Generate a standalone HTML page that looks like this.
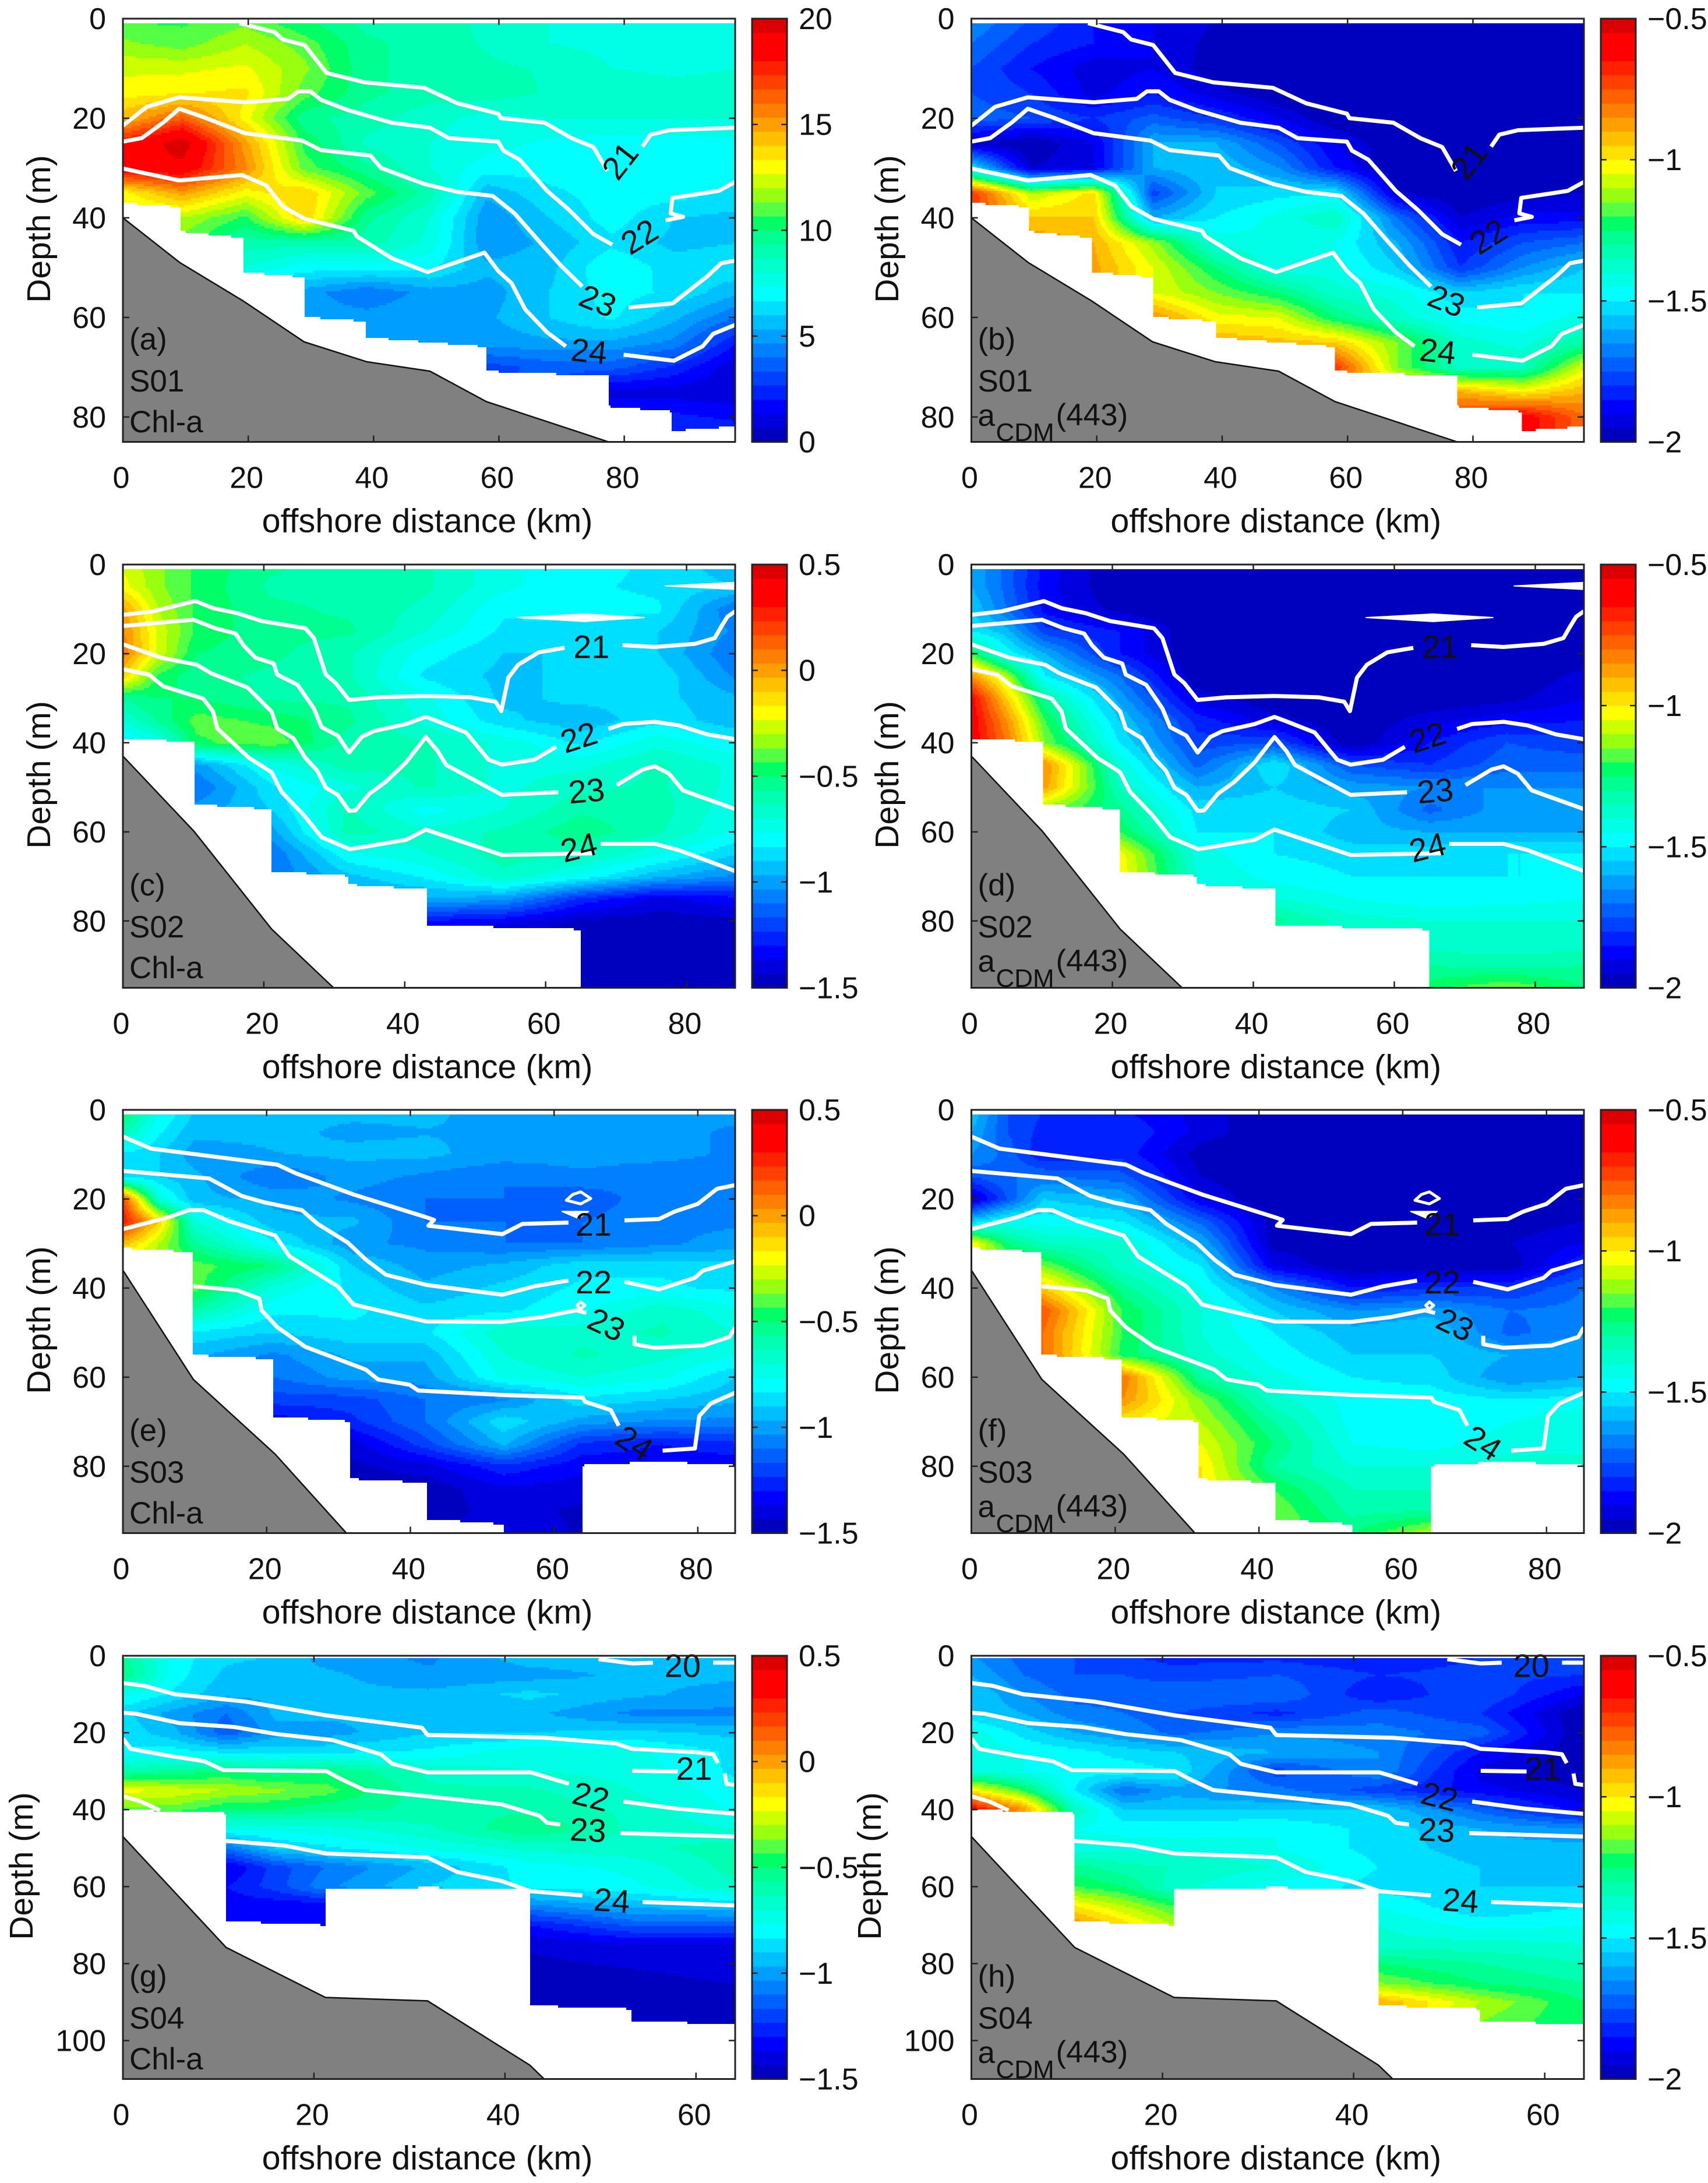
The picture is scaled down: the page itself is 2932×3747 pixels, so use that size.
<!DOCTYPE html>
<html lang="en">
<head>
<meta charset="utf-8">
<title>Offshore sections of Chl-a and aCDM(443)</title>
<style>
html,body{margin:0;padding:0;background:#fff;}
svg{display:block;}
text{font-family:"Liberation Sans",Arial,sans-serif;fill:#111;}
</style>
</head>
<body>
<svg id="fig" xmlns="http://www.w3.org/2000/svg" width="2932" height="3747" viewBox="0 0 2932 3747"></svg>
<script>
/* ---------- station columns (km) ---------- */
const colsS01=[0,9.5,19.5,29,39,49,58,68,78,88,98];
const colsS02=[0,5,10.5,21,32,43,54,65,76,87];
const colsS03=[0,5,10,21,32,42,53,64,75,85.2];
const colsS04=[0,5.4,10.8,16,21.2,32,42.6,53.3,64.1];

/* ---------- gridded values: one row per 5 m of depth; short rows are missing their shoreward (masked) cells ---------- */
const gridChlS01=[
[10.5,10.5,11,10,9,9,8.5,8,7.8,7.8,8],
[11.5,11,12,11,9.5,9,8.6,8,7.8,7.8,8],
[12.5,12.5,12.8,11.5,9.5,9,8.8,8.6,8,7.8,8],
[13,13.3,13.5,11,9.5,9,9,8.6,8.6,8.4,8.4],
[14.5,16.5,13,9.5,9,8.2,7.8,8,8,8,8],
[18,20,15,10.5,8.5,8,7.6,7.2,7,7,7.2],
[19,19,15.5,11,9.5,8,7,7,7,7,7],
[13,15,13,14,11,9,5.5,6.5,7,7,6.5],
[12,12,10.5,14,9.5,8,4.8,6,7,6,5.8],
[11,11,9,9,9,7.8,4.8,5.5,6.5,5.8,6],
[9,9,8,7,7,6.8,5.5,5.8,7.3,6.3,6.5],
[6,6,6,5,4,5,5,6,7,6.5,5.5],
[5,5,5,5,5,5.3,5.2,6,6.8,5.5,4],
[5,5,5,5,5,4.8,5,5.2,5.2,4.5,2],
[4.5,4.5,4.5,4.5,4.5,4.5,3,3.6,3.6,2.5,.8],
[3.5,3.5,3.5,3.5,3.5,3.5,3.5,3.5,1,1,.8],
[2.5,2.2,1.8],
[3,3,3]];
const gridCdmS01=[
[-1.65,-1.75,-1.85,-1.9,-1.95,-2,-2,-2,-2,-2,-2],
[-1.7,-1.8,-1.85,-1.9,-1.97,-2,-2,-2,-2,-2,-2],
[-1.75,-1.85,-1.93,-1.9,-1.98,-2,-1.95,-2,-2,-2,-2],
[-1.75,-1.8,-1.92,-1.85,-1.93,-2,-2,-2,-2,-2,-2],
[-1.72,-1.75,-1.8,-1.73,-1.8,-1.9,-2,-2,-2,-2,-2],
[-1.95,-2,-1.9,-1.6,-1.6,-1.75,-1.9,-2,-2,-2,-2],
[-1.5,-1.95,-1.9,-1.6,-1.55,-1.65,-1.85,-2,-2,-2,-2],
[-.7,-1.1,-.98,-1.78,-1.55,-1.52,-1.5,-1.95,-2,-1.97,-1.95],
[-.7,-.95,-.95,-1.6,-1.5,-1.43,-1.35,-1.7,-1.95,-1.88,-1.88],
[-.7,-.85,-.9,-1.12,-1.42,-1.45,-1.45,-1.6,-1.85,-1.75,-1.7],
[-.85,-.85,-.88,-1.05,-1.25,-1.44,-1.43,-1.55,-1.8,-1.65,-1.55],
[-.85,-.85,-.87,-1.05,-1.15,-1.25,-1.38,-1.42,-1.55,-1.5,-1.5],
[-.85,-.85,-.85,-.85,-1.03,-1.05,-1.25,-1.38,-1.47,-1.5,-1.42],
[-.9,-.9,-.9,-.9,-.9,-.93,-.95,-1.15,-1.38,-1.42,-1.3],
[-.9,-.9,-.9,-.9,-.9,-.9,-.7,-1.15,-1.37,-1.35,-1.05],
[-.9,-.9,-.9,-.9,-.9,-.9,-.9,-.9,-.9,-1,-.9],
[-.7,-.6,-.8],
[-.7,-.6,-.8]];
const gridChlS02=[
[-.25,-.35,-.45,-.55,-.6,-.62,-.75,-.8,-.85,-.95],
[-.2,-.35,-.45,-.58,-.6,-.62,-.75,-.82,-.85,-.9],
[0,-.3,-.45,-.55,-.58,-.65,-.82,-.8,-.82,-1.1],
[.05,-.25,-.45,-.55,-.55,-.7,-.85,-.87,-.9,-1.05],
[.08,-.25,-.5,-.55,-.62,-.8,-.9,-.9,-.9,-1.1],
[-.1,-.45,-.55,-.58,-.62,-.85,-.92,-.88,-.85,-1.05],
[-.55,-.5,-.5,-.58,-.58,-.75,-.92,-.88,-.88,-.95],
[-.7,-.55,-.4,-.45,-.55,-.72,-.88,-.95,-.85,-.95],
[-.85,-.75,-.45,-.38,-.6,-.62,-.72,-.85,-.72,-.82],
[-.85,-.9,-1,-.75,-.6,-.62,-.72,-.72,-.62,-.72],
[-.9,-1,-1.1,-.85,-.72,-.62,-.72,-.65,-.62,-.72],
[-.9,-1,-1,-.9,-.62,-.8,-.7,-.58,-.6,-.75],
[-1,-1,-1,-1,-.6,-.68,-.62,-.52,-.62,-.78],
[-1,-1,-1.1,-1.1,-.78,-.7,-.6,-.62,-.75,-.9],
[-1,-1,-1.15,-1.1,-.92,-.82,-.65,-.78,-.95,-1.05],
[-1.1,-1.1,-1.1,-1.1,-1,-.98,-1,-1.25,-1.38,-1.32],
[-1.3,-1.3,-1.3,-1.3,-1.3,-1.3,-1.35,-1.45,-1.48,-1.45],
[-1.5,-1.5,-1.5],
[-1.5,-1.5,-1.5],
[-1.5,-1.5,-1.5]];
const gridCdmS02=[
[-1.6,-1.72,-1.87,-2,-2,-2,-2,-2,-2,-2],
[-1.6,-1.72,-1.88,-2,-2,-2,-2,-2,-2,-2],
[-1.55,-1.7,-1.87,-1.97,-2,-2,-2,-2,-2,-2],
[-1.5,-1.58,-1.78,-1.85,-2,-2,-2,-2,-2,-2],
[-1.2,-1.47,-1.6,-1.85,-2,-2,-2,-2,-2,-2],
[-.85,-1.1,-1.5,-1.7,-2,-2,-2,-2,-2,-1.93],
[-.62,-.95,-1.3,-1.62,-1.92,-2,-2,-2,-1.97,-1.9],
[-.6,-.85,-1.2,-1.55,-1.82,-1.93,-2,-1.92,-1.87,-1.85],
[-.6,-.8,-1.15,-1.5,-1.78,-1.75,-2,-1.85,-1.75,-1.78],
[-.85,-.85,-.85,-1.4,-1.72,-1.5,-1.75,-1.8,-1.72,-1.72],
[-.85,-.85,-.88,-1.35,-1.6,-1.55,-1.62,-1.65,-1.65,-1.65],
[-1,-1,-1.15,-1.28,-1.52,-1.52,-1.55,-1.72,-1.62,-1.62],
[-1.2,-1.2,-1.2,-1.2,-1.5,-1.5,-1.58,-1.6,-1.6,-1.6],
[-1.02,-1.02,-1.02,-1.02,-1.42,-1.5,-1.52,-1.52,-1.5,-1.5],
[-1,-1,-1,-1,-1.4,-1.47,-1.5,-1.5,-1.5,-1.5],
[-1.4,-1.4,-1.4,-1.4,-1.4,-1.4,-1.45,-1.48,-1.47,-1.45],
[-1.28,-1.38,-1.4,-1.4,-1.4],
[-1.38,-1.38,-1.38],
[-1.3,-1.32,-1.3],
[-1.22,-1.15,-1.25]];
const gridChlS03=[
[-.45,-.75,-.9,-.95,-.95,-.95,-1,-1,-1,-1],
[-.6,-.82,-.95,-.95,-.98,-.97,-.97,-1,-1,-1.05],
[-.85,-.9,-1,-.97,-.95,-.95,-1,-1,-1,-1.05],
[-.85,-.9,-.95,-1.1,-1,-1.05,-1.1,-1.05,-1.1,-1.1],
[.2,-.7,-.95,-.98,-1.05,-1.1,-1.1,-1.15,-1.05,-1.05],
[.3,-.1,-.7,-.95,-.95,-1.1,-1.1,-1.1,-1.05,-1.05],
[-.05,-.3,-.55,-.82,-1.02,-1.05,-1.1,-1.1,-1.05,-1],
[-.35,-.35,-.4,-.5,-.9,-1,-.95,-.85,-.85,-.88],
[-.4,-.4,-.4,-.72,-.85,-.95,-.88,-.82,-.82,-.85],
[-.5,-.5,-.58,-.82,-.82,-.88,-.85,-.78,-.65,-.75],
[-.85,-.85,-.85,-.9,-.85,-.85,-.65,-.66,-.62,-.7],
[-.95,-.95,-.95,-1.05,-.95,-.95,-.7,-.62,-.68,-.75],
[-1.1,-1.1,-1.1,-1.1,-1,-1,-.75,-.7,-.75,-.9],
[-1.2,-1.2,-1.2,-1.2,-1.2,-1.1,-1.05,-.85,-.9,-.95],
[-1.35,-1.35,-1.35,-1.35,-1.25,-1.1,-.85,-1,-1.05,-1.05],
[-1.35,-1.35,-1.35,-1.35,-1.4,-1.2,-.95,-1.25,-1.3,-1.25],
[-1.45,-1.4,-1.25,-1.35,-1.35,-1.35],
[-1.45,-1.48,-1.38,-1.4,-1.4,-1.4],
[-1.48,-1.4,-1.45,-1.45,-1.45],
[-1.48,-1.35,-1.45,-1.45,-1.45]];
const gridCdmS03=[
[-1.55,-1.75,-1.8,-1.85,-1.92,-2,-2,-2,-2,-2],
[-1.6,-1.75,-1.82,-1.8,-1.92,-2,-2,-2,-2,-2],
[-1.65,-1.72,-1.85,-1.82,-1.98,-2,-1.97,-1.97,-2,-2],
[-1.75,-1.7,-1.7,-1.73,-1.95,-2,-2,-2,-2,-2],
[-1.95,-1.75,-1.55,-1.6,-1.9,-2,-2,-2,-2,-2],
[-1.55,-1.45,-1.47,-1.5,-1.72,-1.98,-2,-2,-1.98,-1.95],
[-1,-1.25,-1.35,-1.38,-1.6,-1.97,-2,-1.95,-1.95,-1.9],
[-1.1,-1.1,-1.15,-1.38,-1.5,-1.9,-2,-1.98,-1.98,-1.8],
[-.9,-.9,-.95,-1.28,-1.45,-1.65,-1.85,-1.8,-1.8,-1.7],
[-.75,-.75,-.75,-1.2,-1.4,-1.55,-1.65,-1.62,-1.7,-1.68],
[-.75,-.75,-.8,-1.2,-1.4,-1.5,-1.58,-1.55,-1.72,-1.65],
[-.8,-.8,-.8,-1.22,-1.38,-1.47,-1.55,-1.55,-1.6,-1.6],
[-.65,-.65,-.65,-.8,-1.3,-1.43,-1.5,-1.52,-1.65,-1.6],
[-.8,-.8,-.8,-.85,-1.15,-1.38,-1.47,-1.47,-1.5,-1.48],
[-1,-1,-1,-1,-1.1,-1.3,-1.47,-1.5,-1.45,-1.4],
[-1.1,-1.1,-1.1,-1.1,-1.05,-1.25,-1.45,-1.47,-1.42,-1.42],
[-1,-1.3,-1.4,-1.4,-1.38,-1.38],
[-1,-1.2,-1.35,-1.35,-1.35,-1.35],
[-1.15,-1.32,-1.3,-1.3,-1.3],
[-1.15,-1.25,-1.1,-1.1,-1.1]];
const gridChlS04=[
[-.55,-.8,-.88,-.9,-1,-1.05,-.92,-.92,-.92],
[-.5,-.8,-.92,-.95,-.95,-1.02,-1,-.95,-.95],
[-.75,-.85,-.95,-.95,-.95,-.95,-.88,-.95,-1],
[-.88,-1,-1.1,-.95,-.95,-.95,-.95,-1.05,-1.05],
[-.85,-.95,-1.15,-1,-1,-.9,-.9,-.88,-.92],
[-.82,-.8,-.85,-.85,-.85,-.82,-.72,-.75,-.85],
[-.6,-.55,-.5,-.55,-.5,-.65,-.7,-.72,-.85],
[-.2,-.25,-.3,-.35,-.4,-.62,-.62,-.7,-.8],
[-.4,-.4,-.5,-.5,-.55,-.58,-.58,-.65,-.78],
[-.75,-.75,-.75,-.75,-.72,-.65,-.5,-.65,-.7],
[-.95,-.95,-1.1,-.9,-.85,-.75,-.68,-.65,-.6],
[-1.3,-1.3,-1.38,-1.2,-1.1,-.95,-.8,-.75,-.6],
[-1.3,-1.3,-1.3,-1.2,-1.05,-.9,-.82,-.78,-.65],
[-1.35,-1.35,-1.35,-1.35,-1.35,-1.1,-1.05,-.95,-.9],
[-1.3,-1.3,-1.3,-1.35,-1.35,-1.3,-1.3,-1.15,-1.15],
[-1.42,-1.38,-1.38],
[-1.45,-1.42,-1.38],
[-1.48,-1.47,-1.43],
[-1.5,-1.5,-1.48],
[-1.5,-1.5,-1.5]];
const gridCdmS04=[
[-1.65,-1.72,-1.75,-1.8,-1.82,-1.82,-1.85,-1.8,-1.8],
[-1.6,-1.7,-1.75,-1.75,-1.78,-1.75,-1.8,-1.78,-1.8],
[-1.55,-1.65,-1.72,-1.72,-1.7,-1.7,-1.85,-1.75,-1.9],
[-1.55,-1.6,-1.68,-1.7,-1.75,-1.82,-1.72,-1.8,-2],
[-1.42,-1.52,-1.6,-1.65,-1.72,-1.65,-1.68,-1.72,-2],
[-1.4,-1.45,-1.48,-1.52,-1.55,-1.6,-1.65,-1.85,-2],
[-1.4,-1.45,-1.48,-1.47,-1.5,-1.78,-1.65,-1.92,-2],
[-1,-1.2,-1.5,-1.7,-1.62,-1.68,-1.78,-1.88,-1.95],
[-.6,-.85,-1.35,-1.55,-1.55,-1.55,-1.55,-1.72,-1.88],
[-1.3,-1.3,-1.45,-1.47,-1.47,-1.45,-1.52,-1.6,-1.65],
[-1.45,-1.45,-1.42,-1.42,-1.42,-1.45,-1.52,-1.58,-1.58],
[-1.3,-1.3,-1.28,-1.33,-1.35,-1.4,-1.5,-1.55,-1.58],
[-1.2,-1.2,-1.2,-1.25,-1.38,-1.47,-1.52,-1.55,-1.55],
[-1,-1,-1,-1.1,-1.2,-1.5,-1.45,-1.55,-1.5],
[-.87,-.87,-.85,-.97,-1.1,-1.4,-1.4,-1.47,-1.45],
[-1.38,-1.38,-1.4],
[-1.25,-1.3,-1.35],
[-1.15,-1.25,-1.3],
[-.9,-1.1,-1.25],
[-.9,-1.15,-1.25]];

/* ---------- sampled-region limits: segment edges (km), deepest sample at start / end of each segment (m) ---------- */
const maskXS01=[0,9.1,19.2,28.9,38.9,58,77.5,87.7,97.7];
const maskStartS01=[37,42.7,50.9,59.9,64,70.8,77.9,82.8];
const maskEndS01=[37.8,44,51.9,60.8,65.9,71.8,78.9,81.9];
const maskXS02=[0,10.1,21.1,32.1,43.1,65,86.9];
const maskStartS02=[39,53.8,68.8,71.8,80.9,95];
const maskEndS02=[39.8,54.9,69.9,72.9,81.9,95];
const maskXS03=[0,9.8,20.8,31.5,42.2,53,63.9,74.5,85.2];
const maskStartS03=[31,55,68.8,82.8,91.8,95,79.8,78.9];
const maskEndS03=[31.9,55.9,69.9,83.7,93,95,78.9,79.8];
const maskXS04=[0,10.8,21.2,32,42.6,53.3,64.1];
const maskStartS04=[40,69,60.8,60.2,90.9,94.8];
const maskEndS04=[40.9,70,60.2,60.8,91.8,95.9];

/* ---------- sea floor (km, m) ---------- */
const bathyS01=[[0,40],[9.1,49],[19.2,56.7],[28.9,64.9],[38.9,68.9],[49,70.8],[58,76.9],[77.5,85]];
const bathyS02=[[0,43],[10.1,59.9],[21.1,81.8],[29.9,95]];
const bathyS03=[[0,36],[9.8,60.5],[21.2,77.3],[31.1,95]];
const bathyS04=[[0,47],[10.8,75.8],[21.2,88.8],[31.9,89.7],[42.6,106.4],[44.1,110]];

/* ---------- isotherms (km, m); each entry is a list of polyline pieces ---------- */
const s01Iso21=[[[18.6,.9],[24.2,2.7],[25.5,4.2],[29,5.3],[32.5,10.9],[38.6,12.8],[48.1,13.9],[53.4,17],[59.9,19.1],[60.3,20],[67.3,20.9],[71.6,24],[75.1,25.8],[77.3,30.6]],[[82.9,25.7],[84.2,23.3],[87.2,22.4],[97.7,21.9]]];
const s01Iso22=[[[0,21.5],[3.8,17.7],[9,15.8],[19.5,16.8],[26.4,16.1],[28,14.6],[29.9,14.6],[31.6,16.3],[36,18.4],[42.9,20.9],[49,21.9],[52,24],[59.9,24.7],[60.7,26.5],[63.3,28.3],[67.7,34.6],[71.2,38.4],[75.1,43.3],[78.1,45.4]],[[86.6,40.5],[89.4,39.8],[87.4,39.1],[87.7,36],[95.1,34.6],[97.7,32.8]]];
const s01Iso23=[[[0,24.7],[3,24],[6.4,20.9],[9,18.1],[12.9,19.8],[19.5,23],[28.6,24.5],[31.6,26.4],[39.5,27.5],[41.2,30],[48.1,33.2],[53.4,34.8],[59,35.6],[62.5,39.1],[66.4,44.7],[69.9,49.6],[73.3,53.8]],[[80.7,58],[87.7,57.2],[93.3,51.7],[95.5,49.1],[97.7,48.6]]];
const s01Iso24=[[[0,30.1],[9,32.5],[19,31.4],[22.9,33.5],[25.5,37.7],[29,40.2],[36.8,42.6],[37.3,43.7],[42.9,48.1],[48.6,50.9],[57.7,47],[59.9,50.7],[62,53.1],[64.2,58.4],[67.7,63],[70.7,65.8]],[[79.9,67.5],[87.9,68.7],[92.5,65.8],[94.2,63.3],[97.7,61.5]]];
const s02Iso21=[[[0,11.3],[4.3,10.5],[10.3,8.2],[12.8,9.8],[16.2,10.9],[19.7,12.7],[25.9,14.3],[27.1,16.5],[28.8,24.7],[30.2,26.6],[32.1,30.4],[36.2,29.8],[43,29.5],[49.3,29.8],[52.9,30.8],[53.7,32.9],[54.7,25.4],[56.1,22.5],[59,19.7],[62.7,18.7]],[[70.9,18.1],[75.5,18.5],[81.2,17.8],[84,16.5],[84.9,14],[85.8,11.7],[86.9,10.5]]];
const s02Iso22=[[[0,13.8],[10,12.4],[13.1,14.3],[16,15.5],[17.1,18.1],[18.8,20.9],[21.4,22.2],[21.9,24.7],[24.8,27],[27.1,32.3],[28.2,36.5],[30.5,38.4],[32.1,42.2],[33.9,38.7],[35.6,37.4],[40.2,35.8],[43,34.2],[44.7,35.2],[48.7,37.7],[51.9,43.8],[53.8,44.9],[58.4,43.8],[61.5,40.9]],[[68.9,36.9],[71,35.8],[75.5,35.3],[78.9,36.1],[82.9,38.1],[86.9,39.2]]];
const s02Iso23=[[[0,17.9],[5.4,20.9],[10.5,22.5],[12.5,24.4],[17.7,27.6],[21.1,33],[21.9,36.8],[24.2,39],[25.9,43.4],[27.6,46.3],[28.8,50.1],[30.5,51.7],[32.1,55.3],[33,55.2],[35,51.4],[37.3,48.8],[40.2,44.4],[43,38.7],[44.7,41.9],[45.9,45],[53.8,51.7],[61.8,51.1]],[[70.1,49.5],[73.8,46],[75.5,45.3],[77.5,46.9],[79.5,50.7],[86.9,54.9]]];
const s02Iso24=[[[0,23.5],[3.7,24.7],[5.7,27.3],[11.4,30.1],[12.8,33],[13.4,36.8],[17.9,43.4],[21.1,46.6],[22.5,51],[25.6,56.1],[28.2,61.2],[32.2,63.9],[40.2,61.8],[43,59.5],[53.8,65.2],[67,64.8]],[[67.8,62.7],[75.5,62.7],[78.9,64.1],[86.9,68.8]]];
const s03Iso21=[[[0,6],[3.9,8.7],[21.5,12.3],[24,14.2],[32.1,19],[42.2,24.1],[43.3,24.7],[42.5,26],[52.8,27.9],[55.6,25.6],[62,25.3]],[[69.8,24.8],[74.6,24.5],[76.8,22.8],[80,21.1],[82.7,17.7],[85.2,16.9]]];
const s03Iso22=[[[0,13.7],[12,15.4],[16.5,19.3],[19.8,20.8],[24.9,22.5],[27.1,25.6],[31.3,29.8],[33.8,33.6],[36.6,37],[42.2,39.3],[52.8,41.5],[57.3,39.6],[62,38.3]],[[69.8,38.6],[74.6,40.3],[79.6,37.7],[80.7,36.1],[85.2,34]]];
const s03Iso23=[[[0,26.8],[6.4,24.1],[9.2,22.5],[11.2,22.5],[14.8,25],[21.2,28.2],[23.2,32.9],[29.9,39.6],[32.1,43.7],[42.2,47.5],[52.8,47.6],[58.4,46.5],[63.1,45],[64.5,45.6]],[[71.2,50.7],[71.2,52.6],[74,53.4],[80.7,52.9],[84.4,51],[85.2,48.8]]];
const s03Iso24=[[[9.8,39.6],[15.9,40.5],[19,42.4],[19.3,45],[21.5,48.8],[25.4,53.2],[33.8,58.3],[35.5,60.5],[39.9,61.7],[41.1,63],[52.8,64],[64,64.6],[64.3,65.5],[67.9,67.4],[69,70.9]],[[75.1,76.5],[79.6,76],[80.2,68.7],[81.8,65.9],[85.2,63.5]]];
const s04Iso20=[[[49.8,.9],[53.3,2],[55.5,1.8]],[[61.8,1.8],[64.1,1.8]]];
const s04Iso21=[[[0,7.1],[2.2,7.8],[5.4,10],[12.8,11.9],[21.3,15.5],[31.3,18.7],[31.9,20.6],[44.1,21.3],[51.6,22.8],[53.3,24.2],[60.1,25.1],[61.8,25.6],[62.3,27.9]],[[53.3,29.9],[58.1,30.1]],[[63,30.6],[63.2,33.3],[64.1,33.6]]];
const s04Iso22=[[[0,14.8],[1.4,15.1],[5.9,17.5],[11.6,18.5],[16.2,20.4],[21.9,21.9],[27,25.6],[28.2,28.1],[31.9,30.3],[42.7,30.3],[46.7,33.3]],[[52.4,37.9],[57.8,39.7],[64.1,41.1]]];
const s04Iso23=[[[0,21.5],[.8,24.2],[4.8,26],[8.5,27.4],[10.5,29.7],[21.3,30],[22.8,32],[25.3,34.9],[31.3,36.4],[39.6,38.6],[43.6,41.6],[44.4,43.4],[45.8,43.9]],[[52.1,46.1],[64.1,47]]];
const s04Iso24=[[[0,36.5],[1.9,37.9],[3.9,40.2]],[[10.8,48.1],[16.8,49.3],[21.3,51.4],[31.9,52.4],[35,56.2],[39.6,58.5],[42.7,61.2],[48.1,62.3]],[[54.4,64],[64.1,64.9]]];

/* closed white lenses and rings drawn by the isotherm contouring */
const s02Lens=[[[56,11.9],[65.5,11.1],[74,11.9],[65.5,12.8]],[[77,4.8],[86.9,4],[86.9,5.6]]];
const s03Lens=[[[61.1,22.8],[64.8,22.8],[63.4,24.4]]];
const s03Rings=[[[61.7,20.3],[62.6,19],[63.7,18.4],[65.1,19.9],[63.7,21.1]],[[63.2,43.9],[63.7,43.1],[64.3,43.9],[63.7,44.7]]];

/* contour labels: text, km, m, rotation in degrees */
const s01Labels=[['21',79.3,28.5,-52],['22',82.4,43.7,-32],['23',75.8,56.6,22],['24',74.4,66.7,6]];
const s02Labels=[['21',66.5,18.4,0],['22',64.7,38.7,-18],['23',65.8,50.7,-5],['24',64.7,63.4,-14]];
const s03Labels=[['21',65.5,25.6,0],['22',65.5,38.6,0],['23',67.3,48.1,25],['24',71.2,74.7,33]];
const s04Labels=[['20',58.6,2.5,0],['21',59.8,29.2,0],['22',49,36.5,14],['23',48.7,45.2,3],['24',51.2,63.5,4]];

/* axis ticks */
const xTicksS01=[0,20,40,60,80];
const xTicksS02=[0,20,40,60,80];
const xTicksS03=[0,20,40,60,80];
const xTicksS04=[0,20,40,60];
const yTicksShort=[0,20,40,60,80];
const yTicksLong=[0,20,40,60,80,100];
const cbChlS01=[0,5,10,15,20];
const cbChlLog=[-1.5,-1,-.5,0,.5];
const cbCdm=[-2,-1.5,-1,-.5];

/* colour bands of the map, low to high */
const bandColors=['#0000BF','#0000DF','#0000FF','#0020FF','#0040FF','#0060FF','#0080FF','#009FFF','#00BFFF','#00DFFF','#00FFFF','#00FFE6','#00FFCC','#00FFB0','#00FF90','#00FF66','#55FF44','#99FF11','#CCFF00','#FFFF00','#FFE000','#FFC000','#FFA000','#FF8000','#FF6000','#FF4000','#FF2000','#FF0000','#FF0000','#DD0000'];

const sections=[
{name:'S01',xMax:97.7,yMax:85,cols:colsS01,grids:[gridChlS01,gridCdmS01],maskX:maskXS01,maskStart:maskStartS01,maskEnd:maskEndS01,bathy:bathyS01,iso:[[21,s01Iso21],[22,s01Iso22],[23,s01Iso23],[24,s01Iso24]],labels:s01Labels,lens:[],rings:[],xTicks:xTicksS01,yTicks:yTicksShort,cb:cbChlS01,range:[0,20]},
{name:'S02',xMax:86.9,yMax:95,cols:colsS02,grids:[gridChlS02,gridCdmS02],maskX:maskXS02,maskStart:maskStartS02,maskEnd:maskEndS02,bathy:bathyS02,iso:[[21,s02Iso21],[22,s02Iso22],[23,s02Iso23],[24,s02Iso24]],labels:s02Labels,lens:s02Lens,rings:[],xTicks:xTicksS02,yTicks:yTicksShort,cb:cbChlLog,range:[-1.5,.5]},
{name:'S03',xMax:85.2,yMax:95,cols:colsS03,grids:[gridChlS03,gridCdmS03],maskX:maskXS03,maskStart:maskStartS03,maskEnd:maskEndS03,bathy:bathyS03,iso:[[21,s03Iso21],[22,s03Iso22],[23,s03Iso23],[24,s03Iso24]],labels:s03Labels,lens:s03Lens,rings:s03Rings,xTicks:xTicksS03,yTicks:yTicksShort,cb:cbChlLog,range:[-1.5,.5]},
{name:'S04',xMax:64.1,yMax:110,cols:colsS04,grids:[gridChlS04,gridCdmS04],maskX:maskXS04,maskStart:maskStartS04,maskEnd:maskEndS04,bathy:bathyS04,iso:[[20,s04Iso20],[21,s04Iso21],[22,s04Iso22],[23,s04Iso23],[24,s04Iso24]],labels:s04Labels,lens:[],rings:[],xTicks:xTicksS04,yTicks:yTicksLong,cb:cbChlLog,range:[-1.5,.5]}
];
const rowTops=[32,969,1905,2842];
const letters=['a','b','c','d','e','f','g','h'];
const N_BANDS=bandColors.length, PH=726.5, TOP_DEPTH=.9, DARK='#222';
const NS='http://www.w3.org/2000/svg';
const fig=document.getElementById('fig');

function mk(tag,attrs,parent,txt){
  const el=document.createElementNS(NS,tag);
  for(const k in attrs) el.setAttribute(k,attrs[k]);
  if(txt!==undefined) el.textContent=txt;
  parent.appendChild(el);
  return el;
}
function sampleGrid(grid,cols,x,d){
  const n=cols.length;
  let i=0; while(i<n-2&&x>cols[i+1]) i++;
  const fx=Math.max(0,Math.min(1,(x-cols[i])/(cols[i+1]-cols[i])));
  const rf=Math.min(d/5,grid.length-1.0001), j=Math.floor(rf), fy=rf-j;
  const at=(r,c)=>{const row=grid[Math.min(r,grid.length-1)];const off=n-row.length;return c<off?row[0]:row[c-off];};
  return (at(j,i)*(1-fx)+at(j,i+1)*fx)*(1-fy)+(at(j+1,i)*(1-fx)+at(j+1,i+1)*fx)*fy;
}
function bottomAt(s,x){
  const m=s.maskX; let i=0; while(i<m.length-2&&x>=m[i+1]) i++;
  const f=(x-m[i])/(m[i+1]-m[i]);
  return s.maskStart[i]+(s.maskEnd[i]-s.maskStart[i])*f;
}
function tickText(v){
  let t=String(Math.abs(v)); return (v<0?'\u2212':'')+t;
}

function drawPanel(s,sIdx,col){
  const left=col===0?211:1667.5, right=col===0?1262:2719, cbL=col===0?1291:2748, cbR=cbL+60;
  const top=rowTops[sIdx], bot=top+PH, W=right-left;
  const letter=letters[sIdx*2+col];
  const sx=x=>left+x/s.xMax*W, sy=d=>top+d/s.yMax*PH;
  const range=col===0?s.range:[-2,-.5];
  const ticksCb=col===0?s.cb:cbCdm;
  const grid=s.grids[col];

  const g=mk('g',{},fig);
  
  

  /* filled contours */
  const hm=mk('g',{'shape-rendering':'crispEdges'},g);
  
  
  const stepY=4, stepX=3;
  const nX=Math.ceil(W/stepX);
  for(let py=top;py<bot;py+=stepY){
    const d=(py+stepY/2-top)/PH*s.yMax;
    let runStart=left, runBand=-2;
    for(let ix=0;ix<=nX;ix++){
      const px=left+ix*stepX;
      let band=-2;
      if(ix<nX){
        const x=(px+stepX/2-left)/W*s.xMax;
        band=-1;
        if(d>=TOP_DEPTH&&d<=bottomAt(s,x)){
          band=Math.floor((sampleGrid(grid,s.cols,x,d)-range[0])/(range[1]-range[0])*N_BANDS);
          band=Math.max(0,Math.min(N_BANDS-1,band));
        }
      }
      if(band!==runBand){
        if(runBand>=0){
          const r=mk('rect',{x:runStart,y:py,width:Math.min(px,right)-runStart,height:Math.min(stepY,bot-py),fill:bandColors[runBand]},hm);
          
          
        }
        runStart=px; runBand=band;
      }
    }
  }

  /* isotherms */
  const clipId='clip-'+letter;
  const defs=mk('clipPath',{id:clipId},g);
  mk('rect',{x:left,y:top,width:W,height:PH},defs);
  const isoG=mk('g',{'clip-path':'url(#'+clipId+')',fill:'none',stroke:'#fff','stroke-width':7,'stroke-linejoin':'round','stroke-linecap':'butt'},g);
  
  
  s.iso.forEach(function(entry){
    entry[1].forEach(function(piece){
      const p=mk('polyline',{points:piece.map(q=>sx(q[0]).toFixed(1)+','+sy(q[1]).toFixed(1)).join(' ')},isoG);
      
      
    });
  });
  s.lens.forEach(function(piece){
    const p=mk('polygon',{points:piece.map(q=>sx(q[0]).toFixed(1)+','+sy(q[1]).toFixed(1)).join(' '),fill:'#fff','stroke-width':2},isoG);
    
    
  });
  s.rings.forEach(function(piece){
    const p=mk('polygon',{points:piece.map(q=>sx(q[0]).toFixed(1)+','+sy(q[1]).toFixed(1)).join(' '),'stroke-width':5},isoG);
    
    
  });
  s.labels.forEach(function(l){
    const cx=sx(l[1]),cy=sy(l[2]);
    const t=mk('text',{x:cx,y:cy+20,'text-anchor':'middle','font-size':56,transform:'rotate('+l[3]+' '+cx+' '+cy+')'},g,l[0]);
    
    
  });

  /* sea floor */
  const pts=s.bathy.map(q=>sx(q[0]).toFixed(1)+','+sy(q[1]).toFixed(1));
  const last=s.bathy[s.bathy.length-1];
  const floor=mk('polygon',{points:pts.join(' ')+' '+sx(last[0]).toFixed(1)+','+bot+' '+left+','+bot,fill:'#808080',stroke:'none'},g);
  
  
  const floorLine=mk('polyline',{points:pts.join(' '),fill:'none',stroke:'#111','stroke-width':2.5},g);
  
  

  /* frame and ticks */
  const frame=mk('rect',{x:left,y:top,width:W,height:PH,fill:'none',stroke:DARK,'stroke-width':3},g);
  
  
  s.xTicks.forEach(function(v){
    const x=sx(v);
    const tk=mk('path',{d:'M'+x+' '+bot+'v-11M'+x+' '+top+'v11',stroke:DARK,'stroke-width':2.5,fill:'none'},g);
    
    
    const t=mk('text',{x:x-3,y:bot+79,'text-anchor':'middle','font-size':52},g,tickText(v));
    
    
  });
  s.yTicks.forEach(function(v){
    const y=sy(v);
    const tk=mk('path',{d:'M'+left+' '+y+'h11M'+right+' '+y+'h-11',stroke:DARK,'stroke-width':2.5,fill:'none'},g);
    
    
    const t=mk('text',{x:left-29,y:y+18,'text-anchor':'end','font-size':52},g,tickText(v));
    
    
  });
  const xl=mk('text',{x:(left+right)/2-3,y:bot+155,'text-anchor':'middle','font-size':57.5},g,'offshore distance (km)');
  
  
  const ylx=(sIdx===3?(col===0?56:1512):(col===0?86:1542));
  const yl=mk('text',{x:ylx,y:top+361,'text-anchor':'middle','font-size':57,transform:'rotate(-90 '+ylx+' '+(top+361)+')'},g,'Depth (m)');
  
  

  /* in-panel annotation */
  const tx=left+11;
  const t1=mk('text',{x:tx,y:top+568,'font-size':53},g,'('+letter+')');
  
  
  const t2=mk('text',{x:tx,y:top+640,'font-size':53},g,s.name);
  
  
  if(col===0){
    const t3=mk('text',{x:tx,y:top+710,'font-size':53},g,'Chl-a');
    
    
  }else{
    const t3=mk('text',{x:tx,y:top+699,'font-size':53},g,'a');
    
    
    const t4=mk('text',{x:tx+31,y:top+725,'font-size':44},g,'CDM');
    
    
    const t5=mk('text',{x:tx+134,y:top+698,'font-size':53},g,'(443)');
    
    
  }

  /* colorbar */
  const cb=mk('g',{'shape-rendering':'crispEdges'},g);
  
  
  for(let i=0;i<N_BANDS;i++){
    const h=PH/N_BANDS;
    const r=mk('rect',{x:cbL,y:bot-(i+1)*h,width:60,height:h+.5,fill:bandColors[i]},cb);
    
    
  }
  const cbf=mk('rect',{x:cbL,y:top,width:60,height:PH,fill:'none',stroke:DARK,'stroke-width':3},g);
  
  
  ticksCb.forEach(function(v){
    const y=bot-(v-range[0])/(range[1]-range[0])*PH;
    const tk=mk('path',{d:'M'+cbR+' '+y+'h-10M'+cbL+' '+y+'h10',stroke:DARK,'stroke-width':2.5,fill:'none'},g);
    
    
    const t=mk('text',{x:cbR+20,y:y+18,'font-size':52},g,tickText(v));
    
    
  });
}
sections.forEach(function(s,i){drawPanel(s,i,0);drawPanel(s,i,1);});
</script>
</body>
</html>
